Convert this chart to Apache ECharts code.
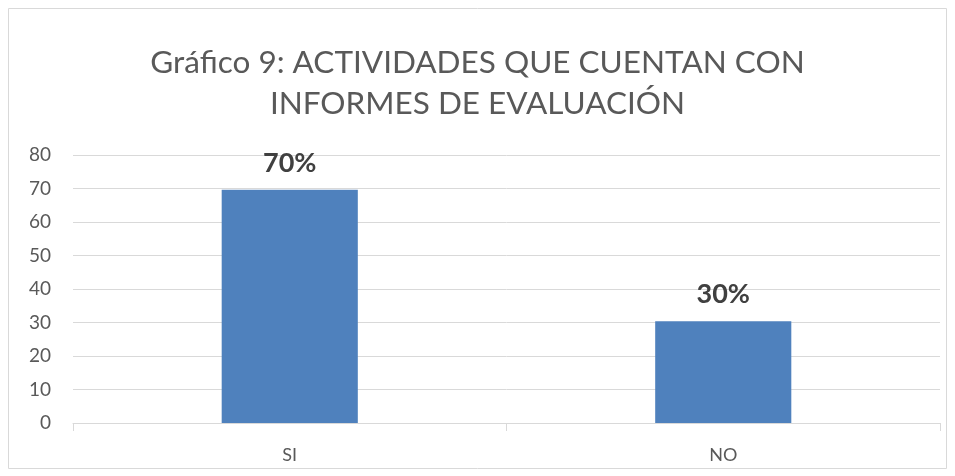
<!DOCTYPE html>
<html>
<head>
<meta charset="utf-8">
<script src="https://cdn.jsdelivr.net/npm/echarts@6/dist/echarts.min.js"></script>
<style>
  html, body { margin: 0; padding: 0; background: #fff; }
  #chart { width: 955px; height: 476px; }
</style>
</head>
<body>
<div id="chart"></div>
<script>
// datos del gráfico
const categories = ['SI', 'NO'];
const values = [69.6, 30.4];
const pctLabels = ['70%', '30%'];

const chart = echarts.init(document.getElementById('chart'));

const option = {
    animation: false,
    textStyle: { fontFamily: 'Lato' },
    title: {
        text: 'Gráfico 9: ACTIVIDADES QUE CUENTAN CON\nINFORMES DE EVALUACIÓN',
        left: 'center',
        top: 37,
        textStyle: {
            fontFamily: 'Lato',
            fontSize: 31.5,
            fontWeight: 'normal',
            color: '#595959',
            lineHeight: 41,
        },
    },
    graphic: [{
        type: 'rect',
        shape: { x: 8.5, y: 8.5, width: 938, height: 460 },
        style: { fill: 'none', stroke: '#d9d9d9', lineWidth: 1 },
        silent: true,
    }],
    grid: { left: 73, right: 15, top: 155, bottom: 53 },
    xAxis: {
        type: 'category',
        data: categories,
        axisLine: { lineStyle: { color: '#d9d9d9' } },
        axisTick: { show: true, length: 8, lineStyle: { color: '#d9d9d9' } },
        axisLabel: { color: '#595959', fontSize: 18, margin: 23 },
    },
    yAxis: {
        type: 'value',
        min: 0,
        max: 80,
        interval: 10,
        axisLine: { show: false },
        axisTick: { show: false },
        splitLine: { lineStyle: { color: '#d9d9d9' } },
        axisLabel: { color: '#595959', fontSize: 19, margin: 22 },
    },
    series: [{
        type: 'bar',
        data: values,
        barWidth: '31.4%',
        itemStyle: { color: '#4f81bd' },
        label: {
            show: true,
            position: 'top',
            distance: 13,
            fontSize: 27,
            fontWeight: 'bold',
            color: '#404040',
            formatter: p => pctLabels[p.dataIndex],
        },
    }],
};

chart.setOption(option);
</script>
</body>
</html>
